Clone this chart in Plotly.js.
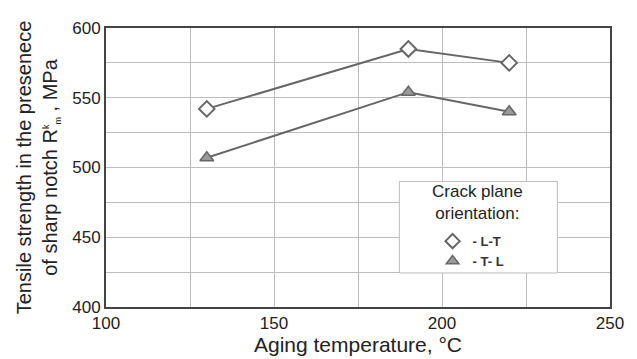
<!DOCTYPE html>
<html>
<head>
<meta charset="utf-8">
<script src="https://cdn.plot.ly/plotly-3.0.1.min.js"></script>
<style>
  html, body { margin: 0; padding: 0; background: #fff; }
  #chart { width: 637px; height: 359px; }
</style>
</head>
<body>
<div id="chart"></div>
<script>
// Aging temperature (°C) and notched tensile strength (MPa)
const agingTemp = [130, 190, 220];
const strengthLT = [542, 585, 575];
const strengthTL = [507, 554, 540];
const seriesNames = ['- L-T', '- T- L'];
const xTicks = [100, 150, 200, 250];
const yTicks = [400, 450, 500, 550, 600];

const FONT = '"Liberation Sans", Arial, Helvetica, sans-serif';
const LINE = '#666666';

const traces = [
  {
    x: agingTemp, y: strengthLT, mode: 'lines+markers', showlegend: false,
    line: { color: LINE, width: 2 },
    marker: { symbol: 'diamond', size: 12, color: '#ffffff', line: { color: LINE, width: 2 } }
  },
  {
    x: agingTemp, y: strengthTL, mode: 'lines+markers', showlegend: false,
    line: { color: LINE, width: 2 },
    marker: { symbol: 'triangle-up', size: 12, color: '#9a9a9a', line: { color: LINE, width: 1.5 } }
  },
  // legend keys (marker only)
  {
    x: [null], y: [null], mode: 'markers', name: seriesNames[0],
    marker: { symbol: 'diamond', size: 11, color: '#ffffff', line: { color: LINE, width: 2 } }
  },
  {
    x: [null], y: [null], mode: 'markers', name: seriesNames[1],
    marker: { symbol: 'triangle-up', size: 11, color: '#9a9a9a', line: { color: LINE, width: 1.5 } }
  }
];

const layout = {
  width: 637, height: 359,
  margin: { l: 106, r: 27, t: 28, b: 52 },
  paper_bgcolor: '#ffffff', plot_bgcolor: '#ffffff',
  font: { family: FONT, color: '#222', size: 16 },
  xaxis: {
    range: [100, 250], tickvals: xTicks, ticktext: xTicks.map(String),
    showgrid: true, gridcolor: '#bdbdbd', gridwidth: 1,
    minor: { dtick: 25, tick0: 100, showgrid: true, gridcolor: '#bdbdbd', gridwidth: 1 },
    showline: true, mirror: true, linecolor: '#444', linewidth: 2,
    zeroline: false, ticks: '',
    tickfont: { size: 17, family: FONT, color: '#222' },
    title: { text: 'Aging temperature, °C', font: { size: 21, family: FONT, color: '#222' }, standoff: 5 }
  },
  yaxis: {
    range: [400, 600], tickvals: yTicks, ticktext: yTicks.map(String),
    showgrid: true, gridcolor: '#bdbdbd', gridwidth: 1,
    minor: { dtick: 25, tick0: 400, showgrid: true, gridcolor: '#bdbdbd', gridwidth: 1 },
    showline: true, mirror: true, linecolor: '#444', linewidth: 2,
    zeroline: false, ticks: '',
    tickfont: { size: 17, family: FONT, color: '#222' },
    title: {
      text: 'Tensile strength in the presenece<br>of sharp notch R<sup><span style="font-size:9px">k</span></sup><sub><span style="font-size:9px">m</span></sub> , MPa',
      font: { size: 20, family: FONT, color: '#222' }, standoff: 9
    }
  },
  legend: {
    x: 0.648, y: 0.20, xanchor: 'left', yanchor: 'middle',
    bgcolor: 'rgba(0,0,0,0)', borderwidth: 0,
    font: { size: 13, family: FONT, color: '#333', weight: 'bold' },
    itemwidth: 30, tracegroupgap: 0
  },
  shapes: [{
    type: 'rect', xref: 'paper', yref: 'paper',
    x0: 0.582, x1: 0.8955, y0: 0.122, y1: 0.450,
    fillcolor: '#ffffff', line: { color: '#bbbbbb', width: 1 }, layer: 'above'
  }],
  annotations: [{
    xref: 'paper', yref: 'paper', x: 0.738, y: 0.376,
    xanchor: 'center', yanchor: 'middle', showarrow: false,
    text: 'Crack plane<br>orientation:',
    font: { size: 17, family: FONT, color: '#222' }
  }]
};

Plotly.newPlot('chart', traces, layout, { staticPlot: true, displayModeBar: false });
</script>
</body>
</html>
